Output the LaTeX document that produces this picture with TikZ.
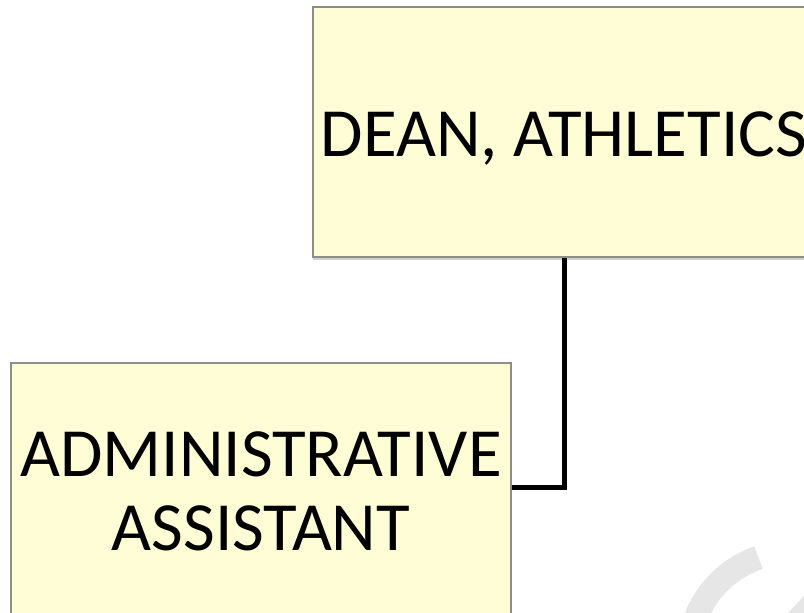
\documentclass[tikz,border=0pt]{standalone}
\usepackage{fontspec}
\setmainfont{Carlito}
\usetikzlibrary{shadows}
\definecolor{boxfill}{HTML}{FFFDD6}
\definecolor{boxline}{HTML}{8E8E86}
\definecolor{markgray}{HTML}{E6E6E6}
\begin{document}
\begin{tikzpicture}[x=1pt,y=1pt,
  orgbox/.style={draw=boxline, line width=1.8pt, fill=boxfill,
    align=center, inner sep=0pt,
    font=\fontsize{69}{74}\selectfont,
    drop shadow={shadow xshift=0pt, shadow yshift=-3pt, opacity=0.3, fill=black!60}},
  conn/.style={draw=black, line width=5pt}]
\useasboundingbox (0,0) rectangle (804,613);
\clip (0,0) rectangle (804,613);
\fill[white] (0,0) rectangle (804,613);

% faint logo mark in the lower right corner
\draw[markgray, line width=24pt] (792,-42) ++(205:103) arc[start angle=205, end angle=109, radius=103];
\fill[markgray] (788,0) -- (804,17) -- (804,0) -- cycle;

% boxes
\node[orgbox, minimum width=502pt, minimum height=250pt, text height=50pt, text depth=0pt] (dean) at (564,481) {DEAN, ATHLETICS};
\node[orgbox, minimum width=500pt, minimum height=256pt] (admin) at (261,122) {ADMINISTRATIVE\\ASSISTANT};

% reporting line
\draw[conn] (dean.south) |- ([yshift=3pt]admin.east);
\end{tikzpicture}
\end{document}
